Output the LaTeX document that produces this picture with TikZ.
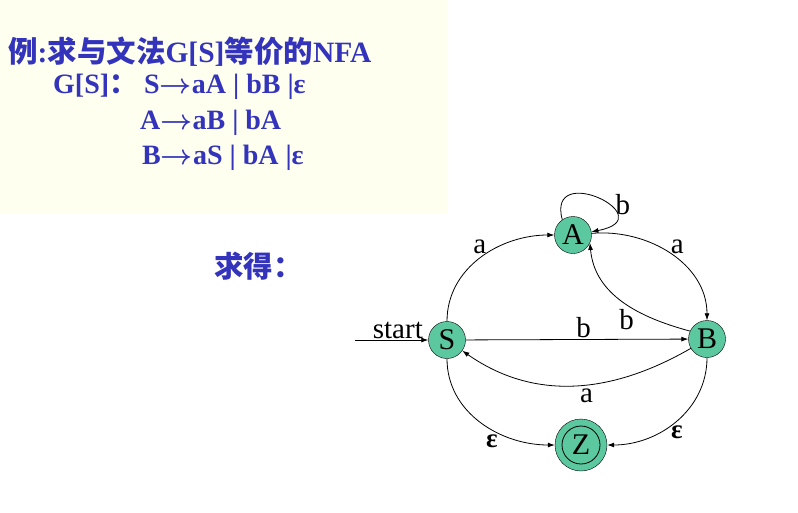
\documentclass[tikz,border=0pt]{standalone}
\usepackage{fix-cm}
\usepackage{fontspec}
\setmainfont{Liberation Serif}
\newfontfamily\cjk{Noto Sans CJK SC}
\usepackage{xcolor}
\usetikzlibrary{arrows.meta, positioning}
\definecolor{slideblue}{HTML}{3333BB}
\definecolor{statefill}{HTML}{5CC8A0}
\definecolor{panelbg}{HTML}{FFFFF0}
\newcommand{\yields}{{\boldmath$\rightarrow$}}

\begin{document}
\begin{tikzpicture}[
    x=1pt, y=-1pt,
    state/.style={circle, draw, fill=statefill, inner sep=0pt, minimum size=37pt, font=\fontsize{30}{30}\selectfont},
    final/.style={state, minimum size=52pt},
    slide/.style={anchor=base west, inner sep=0pt, text=slideblue, font=\fontsize{28}{30}\selectfont\bfseries},
    lbl/.style={inner sep=1pt, font=\fontsize{29}{30}\selectfont},
    arrow/.style={-{Latex[length=7pt, width=5pt]}, line width=0.8pt},
]
    % slide background
    \useasboundingbox (0,0) rectangle (798,512);
    \fill[panelbg] (0,0) rectangle (448,213);

    % grammar text
    \node[slide, font=\fontsize{29.5}{30}\selectfont\bfseries] (title) at (8,62) {{\cjk 例}:{\cjk 求与文法}G[S]{\cjk 等价的}NFA};
    \node[slide] (gs) at (53,93) {G[S]{\cjk ：}};
    \node[slide] (rs) at (144,93) {S\yields aA | bB |ε};
    \node[slide] (ra) at (140,129) {A\yields aB | bA};
    \node[slide] (rb) at (142,164) {B\yields aS | bA |ε};
    \node[slide, font=\fontsize{29.5}{30}\selectfont\bfseries] (res) at (214,277) {{\cjk 求得：}};

    % states
    \node[state] (S) at (447,340) {S};
    \node[state] (A) at (573,235) {A};
    \node[state] (B) at (707,339) {B};
    \node[final] (Z) at (581,445) {Z};
    \draw[line width=0.8pt] (Z) circle[radius=19];

    \coordinate (in) at (355,340);
    \node[lbl, anchor=base east, inner sep=0pt] (startlbl) at (423,338) {start};

    \draw[arrow] (in) -- (S);
    \draw[arrow] (S) to[out=90, in=180] node[lbl, pos=0.55, above left, inner sep=0pt] {a} (A);
    \draw[arrow] (A.125) .. controls (546,160) and (665,218) .. node[lbl, right=6pt, pos=0.6] {b} (A.10);
    \draw[arrow] (A) to[out=5, in=90] node[lbl, pos=0.5, above right, inner sep=0pt] {a} (B);
    \draw[arrow] (B.155) to[out=165, in=-85] node[lbl, pos=0.4, below left, inner sep=0pt] {b} (A.-25);
    \draw[arrow] (S) -- node[lbl, pos=0.53, above] {b} (B);
    \draw[arrow] (B) to[out=-150, in=-35] node[lbl, pos=0.45, below=3pt] {a} (S);
    \draw[arrow] (S) to[out=-90, in=180] node[lbl, pos=0.64, below left, font=\fontsize{27}{28}\selectfont\bfseries] {ε} (Z);
    \draw[arrow] (B) to[out=-90, in=0] node[lbl, pos=0.55, below right, inner sep=0pt, font=\fontsize{27}{28}\selectfont\bfseries] {ε} (Z);
\end{tikzpicture}
\end{document}
